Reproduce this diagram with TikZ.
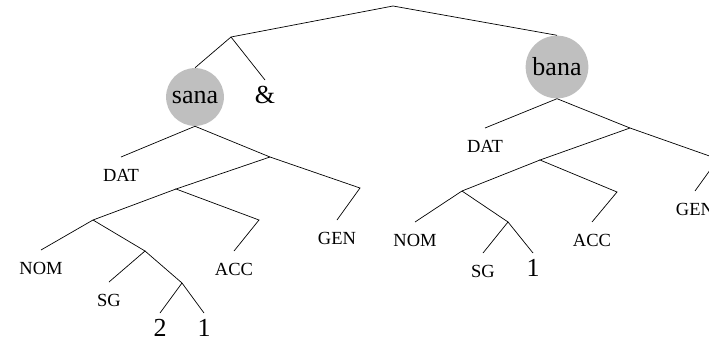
\documentclass[tikz,border=0pt]{standalone}
\usepackage{fontspec}
\setmainfont{Liberation Serif}
\usetikzlibrary{positioning}

\begin{document}
\begin{tikzpicture}[x=1pt,y=-1pt,line width=0.7pt,
    feat/.style={font=\fontsize{18.5}{20}\selectfont,inner sep=0pt,text height=12.2pt,text depth=0pt,outer ysep=12pt,anchor=north},
    form/.style={font=\fontsize{26}{28}\selectfont,inner sep=0pt,text height=17.6pt,text depth=0pt,outer ysep=6pt,anchor=north},
    word/.style={circle,fill=gray!50,inner sep=4pt,font=\fontsize{26}{28}\selectfont}]
  \useasboundingbox (0,0) rectangle (709,338);
  \clip (0,0) rectangle (709,338);
  % branching points
  \coordinate (r) at (393,6);
  \coordinate (l1) at (231,37);
  \coordinate (n2) at (270,157);
  \coordinate (n3) at (176,189);
  \coordinate (n4) at (93,220);
  \coordinate (n5) at (145,251);
  \coordinate (n6) at (182,283);
  \coordinate (n7) at (259,220);
  \coordinate (n8) at (360,188);
  \coordinate (m2) at (630,128);
  \coordinate (m3) at (540,160);
  \coordinate (m4) at (462,191);
  \coordinate (m5) at (508,222);
  \coordinate (m6) at (617,192);
  \coordinate (m7) at (718,159);
  % words
  \node[word] (sana) at (195,97) {sana};
  \node[word] (bana) at (557,67) {bana};
  \node[form] (amp) at (265,80) {\&};
  % left tree
  \node[feat] (datL) at (121,157) {DAT};
  \node[feat] (genL) at (337,220) {GEN};
  \node[feat] (accL) at (234,251) {ACC};
  \node[feat] (nomL) at (41,250) {NOM};
  \node[feat] (sgL) at (109,282) {SG};
  \node[form] (twoL) at (160,313) {2};
  \node[form] (oneL) at (204,313) {1};
  % right tree
  \node[feat] (datR) at (485,128) {DAT};
  \node[feat] (genR) at (695,191) {GEN};
  \node[feat] (accR) at (592,222) {ACC};
  \node[feat] (nomR) at (415,222) {NOM};
  \node[feat] (sgR) at (483,253) {SG};
  \node[form] (oneR) at (533,253) {1};

  \draw (l1) -- (r) -- (bana.north);
  \draw (sana.north) -- (l1) -- (amp.north);
  \draw (datL.north) -- (sana.south) -- (n2) -- (n8) -- (genL.north);
  \draw (n2) -- (n3) -- (n7) -- (accL.north);
  \draw (n3) -- (n4) -- (nomL.north);
  \draw (n4) -- (n5) -- (sgL.north);
  \draw (n5) -- (n6) -- (twoL.north);
  \draw (n6) -- (oneL.north);

  \draw (datR.north) -- (bana.south) -- (m2) -- (m7) -- (genR.north);
  \draw (m2) -- (m3) -- (m6) -- (accR.north);
  \draw (m3) -- (m4) -- (nomR.north);
  \draw (m4) -- (m5) -- (sgR.north);
  \draw (m5) -- (oneR.north);
\end{tikzpicture}
\end{document}
